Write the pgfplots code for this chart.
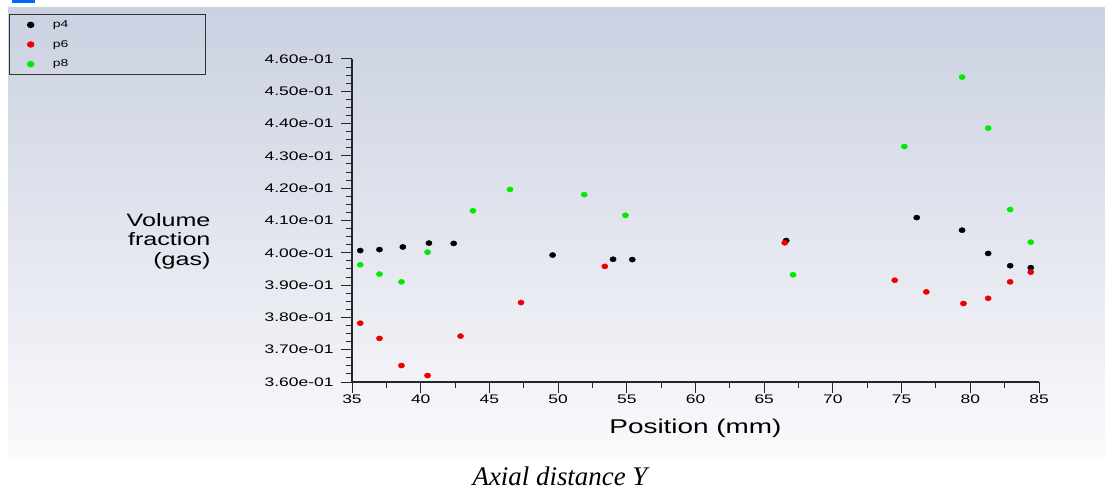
\documentclass[border=0pt]{standalone}
\usepackage{pgfplots}
\pgfplotsset{compat=1.18}
\usepackage{fontspec}
\setmainfont{Liberation Sans}[FakeStretch=1.4]
\newfontfamily\capfont{Liberation Serif}

\definecolor{bgtop}{RGB}{203,209,225}
\definecolor{bgbot}{RGB}{250,250,252}
\definecolor{psix}{RGB}{238,0,0}
\definecolor{peight}{RGB}{0,235,0}

\begin{document}
\begin{tikzpicture}
\useasboundingbox (0,0) rectangle (1105bp,490bp);
% panel background
\fill[top color=bgtop,bottom color=bgbot] (8bp,33bp) rectangle (1105bp,482bp);
\fill[blue!60!cyan] (12bp,487bp) rectangle (35bp,490bp);

\begin{axis}[
    at={(352bp,108bp)}, anchor=south west,
    scale only axis, width=687bp, height=323bp,
    xmin=35, xmax=85,
    ymin=0.36, ymax=0.46,
    axis lines*=left,
    axis line style={black!85,line width=1.3bp},
    tick align=outside,
    major tick length=11bp, minor tick length=6bp,
    every tick/.style={black!85,line width=1bp},
    xtick={35,40,45,50,55,60,65,70,75,80,85},
    minor x tick num=1,
    ytick={0.36,0.37,0.38,0.39,0.40,0.41,0.42,0.43,0.44,0.45,0.46},
    yticklabels={3.60e-01,3.70e-01,3.80e-01,3.90e-01,4.00e-01,4.10e-01,
                 4.20e-01,4.30e-01,4.40e-01,4.50e-01,4.60e-01},
    minor y tick num=3,
    scaled ticks=false,
    /pgf/number format/assume math mode=true,
    ticklabel style={font=\fontsize{12.5}{14}\selectfont},
    yticklabel style={xshift=-4bp},
    xticklabel style={yshift=2bp},
    xlabel={Position (mm)},
    every axis x label/.style={at={(axis description cs:0.5,-0.158)},anchor=base,
        font=\fontsize{20}{24}\selectfont},
    ylabel={Volume\\fraction\\(gas)},
    every axis y label/.style={at={(axis description cs:-0.2009,0.436)},anchor=east,
        align=right,font=\fontsize{18}{19.5}\selectfont},
    legend cell align=left,
    legend style={at={(-0.4993,1.1393)}, anchor=north west,
        draw=black!80, line width=1.2bp, fill=none,
        font=\fontsize{10}{12}\selectfont,
        inner xsep=18bp, inner ysep=0.5bp,
        nodes={inner ysep=5.6bp, inner xsep=2bp},
        /tikz/every odd column/.append style={column sep=17bp},
        /tikz/every even column/.append style={text width=133bp}},
]

% p4
\addplot[only marks, mark=*, mark size=2.6bp, black, mark options={xscale=1.2}]
coordinates {
(35.6,0.4007) (37.0,0.4010) (38.7,0.4018) (40.6,0.4030) (42.4,0.4029)
(49.6,0.3993) (54.0,0.3980) (55.4,0.3979) (66.6,0.4038) (76.1,0.4109)
(79.4,0.4070) (81.3,0.3998) (82.9,0.3960) (84.4,0.3954)
};
\addlegendentry{p4}

% p6
\addplot[only marks, mark=*, mark size=2.6bp, psix, mark options={xscale=1.2}]
coordinates {
(35.6,0.3782) (37.0,0.3735) (38.6,0.3651) (40.5,0.3620) (42.9,0.3742)
(47.3,0.3846) (53.4,0.3958) (66.5,0.4031) (74.5,0.3915) (76.8,0.3879)
(79.5,0.3843) (81.3,0.3859) (82.9,0.3910) (84.4,0.3940)
};
\addlegendentry{p6}

% p8
\addplot[only marks, mark=*, mark size=2.6bp, peight, mark options={xscale=1.2}]
coordinates {
(35.6,0.3963) (37.0,0.3934) (38.6,0.3910) (40.5,0.4002) (43.8,0.4130)
(46.5,0.4196) (51.9,0.4180) (54.9,0.4116) (67.1,0.3932) (75.2,0.4329)
(79.4,0.4544) (81.3,0.4386) (82.9,0.4134) (84.4,0.4033)
};
\addlegendentry{p8}

\end{axis}

\node[font=\capfont\itshape\fontsize{27}{30}\selectfont, anchor=base, inner sep=0pt]
  at (560bp,5bp) {Axial distance Y};
\end{tikzpicture}
\end{document}
